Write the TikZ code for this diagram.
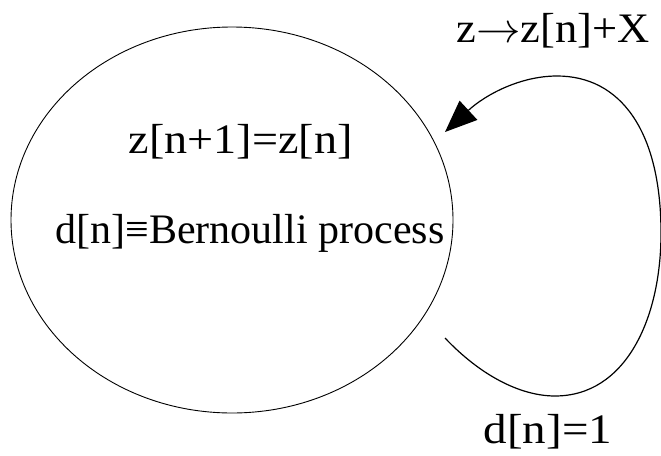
\RequirePackage{fix-cm}
\documentclass[tikz,border=0pt]{standalone}
\usepackage{fontspec}
\setmainfont{Liberation Serif}
\usetikzlibrary{arrows.meta,shapes.geometric}
\begin{document}
\begin{tikzpicture}[x=1pt,y=-1pt,line width=1pt,
  lbl/.style={font=\fontsize{42}{50}\selectfont, inner sep=0pt, anchor=base, transform shape},
  statebox/.style={draw, ellipse, inner sep=0pt, line width=0.9pt, minimum width=442pt, minimum height=386pt}]
\useasboundingbox (0,0) rectangle (661,455);
\node (state) [statebox] at (232,220) {};
\node (eq1) [lbl, xscale=1.10] at (240.5,153) {z[n+1]=z[n]};
\node (eq2) [lbl, xscale=1.0] at (250,243) {d[n]≡Bernoulli process};
\node (top) [lbl, xscale=1.06] at (553,42) {z$\rightarrow$z[n]+X};
\node (bot) [lbl, xscale=1.12] at (548,443) {d[n]=1};
\coordinate (loopstart) at (445,338);
\coordinate (looptip) at (445,132);
\draw[line width=1.2pt, -{Triangle[length=32pt,width=26pt]}] (loopstart)
  .. controls (480,375) and (520,396) .. (555,396)
  .. controls (625,396) and (661,320) .. (661,233)
  .. controls (661,130) and (620,76) .. (557,76)
  .. controls (520,76) and (485,95) .. (looptip);
\end{tikzpicture}
\end{document}
